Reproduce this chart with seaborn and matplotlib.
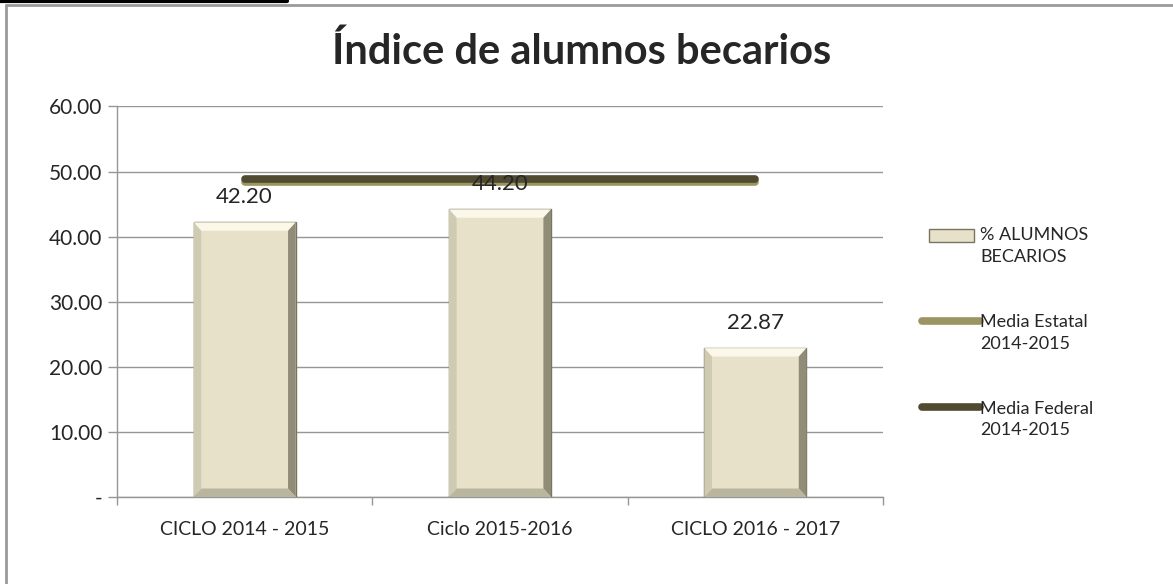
import matplotlib
matplotlib.use("Agg")
import matplotlib.pyplot as plt
import seaborn as sns
import pandas as pd
from matplotlib.lines import Line2D
from matplotlib.patches import Patch, Polygon, Rectangle
from matplotlib.legend_handler import HandlerLine2D, HandlerPatch
from matplotlib.ticker import FuncFormatter, FixedLocator

# data
ciclos = ["CICLO 2014 - 2015", "Ciclo 2015-2016", "CICLO 2016 - 2017"]
pct_becarios = [42.20, 44.20, 22.87]
media_estatal = [48.4, 48.4, 48.4]
media_federal = [48.8, 48.8, 48.8]

bar_color = "#E7E1C9"
estatal_color = "#9C9462"
federal_color = "#4F4A30"

sns.set_theme(style="white")
plt.rcParams["font.family"] = ["Lato", "DejaVu Sans"]

df = pd.DataFrame({"Ciclo": ciclos, "Pct": pct_becarios})

fig = plt.figure(figsize=(11.73, 5.84), dpi=100)
ax = fig.add_axes([0.0997, 0.149, 0.6531, 0.6687])

sns.barplot(data=df, x="Ciclo", y="Pct", color=bar_color, width=0.4,
            edgecolor="#77745F", linewidth=1.0, saturation=1, ax=ax, zorder=3)

# bevel shading on each bar (derived from the drawn patches)
for p in ax.patches:
    x0, y0 = p.get_x(), p.get_y()
    w, h = p.get_width(), p.get_height()
    bx, by = 0.03, 1.3
    ax.add_patch(Polygon([(x0, y0 + h), (x0 + w, y0 + h), (x0 + w - bx, y0 + h - by),
                          (x0 + bx, y0 + h - by)], closed=True, fc="#FBF8EA", ec="none", zorder=3.5))
    ax.add_patch(Polygon([(x0 + w, y0), (x0 + w, y0 + h), (x0 + w - bx, y0 + h - by),
                          (x0 + w - bx, y0 + by)], closed=True, fc="#8F8C77", ec="none", zorder=3.5))
    ax.add_patch(Polygon([(x0, y0), (x0 + w, y0), (x0 + w - bx, y0 + by),
                          (x0 + bx, y0 + by)], closed=True, fc="#B9B59E", ec="none", zorder=3.5))
    ax.add_patch(Polygon([(x0, y0), (x0, y0 + h), (x0 + bx, y0 + h - by),
                          (x0 + bx, y0 + by)], closed=True, fc="#CFCAB2", ec="none", zorder=3.5))

x_pos = list(range(len(ciclos)))
sns.lineplot(x=x_pos, y=media_estatal, color=estatal_color, lw=5.5, ax=ax,
             solid_capstyle="round", zorder=4)
sns.lineplot(x=x_pos, y=media_federal, color=federal_color, lw=5.5, ax=ax,
             solid_capstyle="round", zorder=4)

for cont in ax.containers:
    ax.bar_label(cont, fmt="%.2f", padding=11, fontsize=16, zorder=5)

ax.set_ylim(0, 60)
ax.set_xlim(-0.5, 2.5)
ax.set_yticks([0, 10, 20, 30, 40, 50, 60])
ax.yaxis.set_major_formatter(FuncFormatter(lambda v, p: "-" if v == 0 else f"{v:.2f}"))
ax.yaxis.grid(True, color="#969696", lw=1)
ax.set_axisbelow(True)
ax.set_xlabel("")
ax.set_ylabel("")
ax.tick_params(axis="y", labelsize=15, length=6.5, width=1, color="#969696",
               direction="out", left=True, pad=4)
ax.tick_params(axis="x", which="major", labelsize=14, length=0, pad=17)
ax.xaxis.set_minor_locator(FixedLocator([-0.5, 0.5, 1.5, 2.5]))
ax.tick_params(axis="x", which="minor", length=6, width=1, color="#969696",
               direction="out", bottom=True)
for s in ["top", "right"]:
    ax.spines[s].set_visible(False)
for s in ["left", "bottom"]:
    ax.spines[s].set_color("#969696")
    ax.spines[s].set_linewidth(1)

fig.text(0.496, 0.913, "Índice de alumnos becarios", ha="center", va="center",
         fontsize=30, fontweight="bold")


# legend handles sit on the first line of the two-line labels
SHIFT = 9.0


class UpLine(HandlerLine2D):
    def create_artists(self, legend, orig_handle, xdescent, ydescent, width,
                       height, fontsize, trans):
        arts = super().create_artists(legend, orig_handle, xdescent, ydescent,
                                      width, height, fontsize, trans)
        for a in arts:
            a.set_ydata([y + SHIFT for y in a.get_ydata()])
        return arts


def up_patch(legend, orig_handle, xdescent, ydescent, width, height, fontsize):
    return Rectangle((-xdescent + 5, -ydescent + SHIFT - 1), width - 9, height)


handles = [
    Patch(facecolor=bar_color, edgecolor="#77745F", linewidth=1.0),
    Line2D([], [], color=estatal_color, lw=5.5, solid_capstyle="round"),
    Line2D([], [], color=federal_color, lw=5.5, solid_capstyle="round"),
]
labels = ["% ALUMNOS\nBECARIOS", "Media Estatal\n2014-2015", "Media Federal\n2014-2015"]
leg = fig.legend(handles, labels, loc="center left", bbox_to_anchor=(0.772, 0.43),
                 frameon=False, fontsize=13, handlelength=3.2, handleheight=0.7,
                 handletextpad=0.05, labelspacing=2.7,
                 handler_map={Line2D: UpLine(), Patch: HandlerPatch(patch_func=up_patch)})
for t in leg.get_texts():
    t.set_linespacing(1.45)

# outer frame of the sheet
fig.add_artist(Line2D([0.005, 1.0], [0.991, 0.991], color="#9A9A9A", lw=2,
                      transform=fig.transFigure))
fig.add_artist(Line2D([0.0055, 0.0055], [0.0, 0.991], color="#9A9A9A", lw=2,
                      transform=fig.transFigure))
fig.add_artist(Line2D([0.0, 0.245], [0.998, 0.998], color="black", lw=3,
                      transform=fig.transFigure))

fig.savefig("out.png", dpi=100)
